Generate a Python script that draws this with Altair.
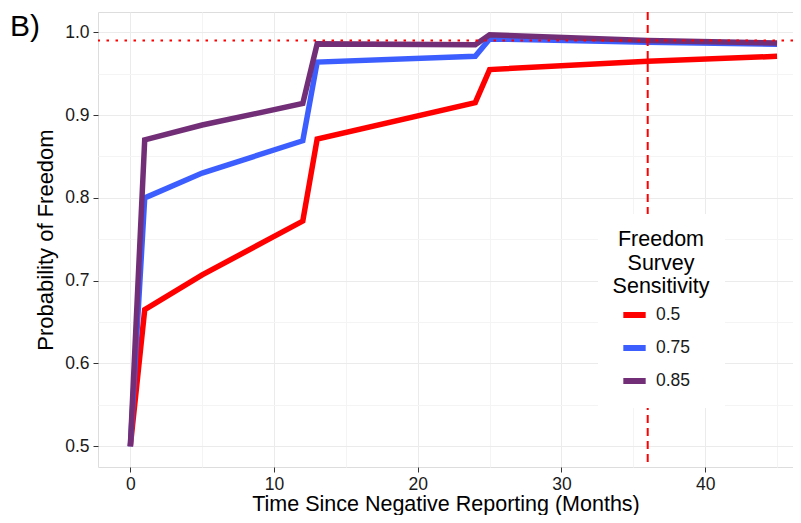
import altair as alt
import pandas as pd

months = [0, 1, 5, 12, 13, 24, 25, 36, 45]
sens_05 = [0.500, 0.665, 0.707, 0.772, 0.871, 0.915, 0.955, 0.965, 0.971]
sens_075 = [0.500, 0.800, 0.830, 0.869, 0.964, 0.971, 0.992, 0.988, 0.9855]
sens_085 = [0.500, 0.870, 0.888, 0.914, 0.986, 0.985, 0.997, 0.990, 0.987]
series_labels = ["0.5", "0.75", "0.85"]
colors = ["#FF0000", "#3D5EFF", "#722F78"]
hline_value = [0.99]
vline_value = [36]

rows = []
for lab, vals in zip(series_labels, [sens_05, sens_075, sens_085]):
    for m, v in zip(months, vals):
        rows.append({"month": m, "prob": v, "sens": lab})
df = pd.DataFrame(rows)

FONT = "Liberation Sans"
x_minor = "datum.value % 10 != 0"
y_minor = "abs(datum.value*10 - round(datum.value*10)) > 0.001"

xscale = alt.Scale(domain=[-2.25, 46.11], nice=False, zero=False)
yscale = alt.Scale(domain=[0.475, 1.0245], nice=False, zero=False)

xaxis = alt.Axis(
    title="Time Since Negative Reporting (Months)",
    values=[0, 5, 10, 15, 20, 25, 30, 35, 40, 45],
    labelExpr="datum.value % 10 == 0 ? datum.label : ''",
    gridColor={"condition": {"test": x_minor, "value": "#F4F4F4"}, "value": "#EBEBEB"},
    tickOpacity={"condition": {"test": x_minor, "value": 0}, "value": 1},
    tickColor="#333333", tickSize=5, domain=False,
    labelFont=FONT, labelFontSize=17.5, labelColor="#1a1a1a", labelPadding=3,
    titleFont=FONT, titleFontSize=21.5, titleFontWeight="normal", titleColor="#000000",
    titlePadding=1,
)
yaxis = alt.Axis(
    title="Probability of Freedom",
    values=[0.5, 0.55, 0.6, 0.65, 0.7, 0.75, 0.8, 0.85, 0.9, 0.95, 1.0],
    labelExpr=y_minor + " ? '' : format(datum.value, '.1f')",
    gridColor={"condition": {"test": y_minor, "value": "#F4F4F4"}, "value": "#EBEBEB"},
    tickOpacity={"condition": {"test": y_minor, "value": 0}, "value": 1},
    tickColor="#333333", tickSize=5, domain=False,
    labelFont=FONT, labelFontSize=17.5, labelColor="#1a1a1a", labelPadding=4,
    titleFont=FONT, titleFontSize=22, titleFontWeight="normal", titleColor="#000000",
    titlePadding=7,
)

lines = alt.Chart(df).mark_line(strokeWidth=5.5, strokeCap="butt").encode(
    x=alt.X("month:Q", scale=xscale, axis=xaxis),
    y=alt.Y("prob:Q", scale=yscale, axis=yaxis),
    color=alt.Color(
        "sens:N",
        scale=alt.Scale(domain=series_labels, range=colors),
        legend=alt.Legend(
            title=["Freedom", "Survey", "Sensitivity"],
            orient="none", legendX=500, legendY=202,
            titleFont=FONT, titleFontSize=21.5, titleFontWeight="normal",
            titleColor="#000000", titleAlign="center", titleAnchor="middle",
            titleLineHeight=23.5, titlePadding=3,
            labelFont=FONT, labelFontSize=17.5, labelColor="#1a1a1a",
            symbolType="stroke", symbolStrokeWidth=6, symbolSize=500,
            symbolOffset=-12,
            rowPadding=6, fillColor="white", padding=15, labelOffset=7,
        ),
    ),
)

hline = alt.Chart(pd.DataFrame({"y": hline_value})).mark_rule(
    color="#FF0000", strokeWidth=2, strokeDash=[2.5, 6.5]
).encode(y=alt.Y("y:Q", scale=yscale))

vline = alt.Chart(pd.DataFrame({"x": vline_value})).mark_rule(
    color="#FF0000", strokeWidth=2, strokeDash=[8, 5]
).encode(x=alt.X("x:Q", scale=xscale))

label = alt.Chart(pd.DataFrame({"t": ["B)"]})).mark_text(
    font=FONT, fontSize=30, align="left", baseline="alphabetic", color="#000000"
).encode(text="t:N", x=alt.value(-88), y=alt.value(24))

chart = alt.layer(lines, hline, vline, label).properties(
    width=695, height=455,
    autosize=alt.AutoSizeParams(type="none"),
    padding={"left": 90, "top": 4, "right": 0, "bottom": 48},
).configure_view(stroke="#7F7F7F", strokeWidth=1.2).configure(background="white")

chart.save("out.html", embed_options={"renderer": "svg", "actions": False})
